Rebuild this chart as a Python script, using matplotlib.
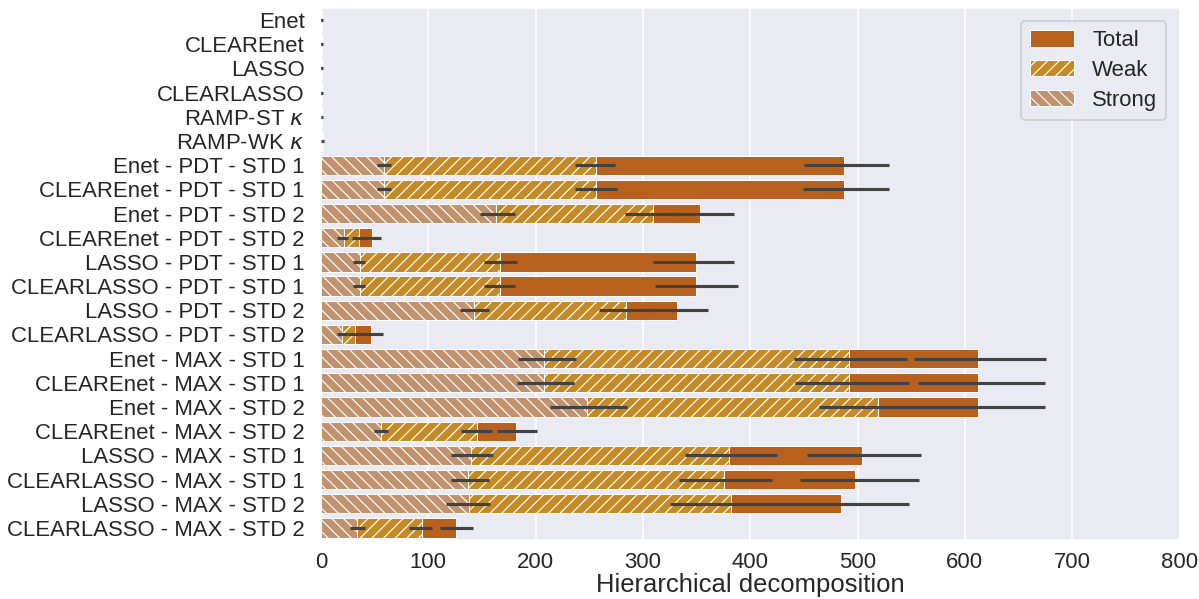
import matplotlib
matplotlib.use("Agg")
import matplotlib.pyplot as plt
import seaborn as sns

LABELS = ["Enet", "CLEAREnet", "LASSO", "CLEARLASSO", "RAMP-ST $\\kappa$", "RAMP-WK $\\kappa$",
          "Enet - PDT - STD 1", "CLEAREnet - PDT - STD 1", "Enet - PDT - STD 2", "CLEAREnet - PDT - STD 2",
          "LASSO - PDT - STD 1", "CLEARLASSO - PDT - STD 1", "LASSO - PDT - STD 2", "CLEARLASSO - PDT - STD 2",
          "Enet - MAX - STD 1", "CLEAREnet - MAX - STD 1", "Enet - MAX - STD 2", "CLEAREnet - MAX - STD 2",
          "LASSO - MAX - STD 1", "CLEARLASSO - MAX - STD 1", "LASSO - MAX - STD 2", "CLEARLASSO - MAX - STD 2"]

TOTAL = [1.0, 1.0, 1.0, 1.0, 1.2, 2.0,
         487, 487, 353, 47.5, 349, 349, 332, 47,
         612, 612, 612, 182, 504, 498, 485, 126]
TOTAL_LO = [0.4, 0.4, 0.4, 0.4, 0.5, 1.0,
            450, 449, 322, 39, 309, 311, 303, 36,
            553, 556, 549, 164, 453, 446, 422, 111]
TOTAL_HI = [1.6, 1.6, 1.6, 1.6, 1.9, 3.2,
            529, 529, 385, 55.6, 385, 389, 361, 58,
            676, 675, 675, 201.5, 559, 557, 548, 142]

WEAK = [0.6, 0.6, 0.6, 0.6, 0.7, 1.2,
        256, 256, 309, 35, 167, 167, 284, 32,
        492, 492, 519, 145, 380, 376, 382, 94]
WEAK_LO = [0.3, 0.3, 0.3, 0.3, 0.3, 0.6,
           237, 237, 283, 28.6, 152, 152, 259, 25.5,
           441, 442, 464, 130, 339, 334, 325, 82]
WEAK_HI = [0.9, 0.9, 0.9, 0.9, 1.1, 1.8,
           274, 275.5, 334, 41, 183, 181, 309, 39,
           546, 548, 573, 159, 425, 420, 439, 103]

STRONG = [0.4, 0.4, 0.4, 0.4, 0.5, 0.8,
          59, 59, 163, 21, 36, 36, 143, 20,
          208, 208, 248, 56, 140, 137, 138, 34]
STRONG_LO = [0.2, 0.2, 0.2, 0.2, 0.2, 0.4,
             52.5, 52.5, 148, 15.2, 30, 30, 129.5, 14.6,
             184, 183, 213, 49.4, 121, 121, 116.5, 27]
STRONG_HI = [0.6, 0.6, 0.6, 0.6, 0.8, 1.2,
             65, 65, 181, 25.4, 41, 41, 157, 25,
             238, 236, 285, 62, 160, 157, 157.5, 41]

COLORS = {"Total": "#b8611e", "Weak": "#c48a25", "Strong": "#c0926d"}
HATCHES = {"Total": "", "Weak": "////", "Strong": "\\\\\\\\"}

sns.set_style("darkgrid")
plt.rcParams['font.family'] = ['Liberation Sans', 'DejaVu Sans']
plt.rcParams['mathtext.fontset'] = 'dejavusans'
plt.rcParams['hatch.color'] = 'white'
plt.rcParams['hatch.linewidth'] = 0.6

DPI = 140
FS = 11.4
fig = plt.figure(figsize=(1199 / DPI, 599 / DPI), dpi=DPI)
ax = fig.add_axes([321 / 1199, 59 / 599, 858.5 / 1199, 532 / 599])

y = list(range(len(LABELS)))
series = [("Total", TOTAL, TOTAL_LO, TOTAL_HI),
          ("Weak", WEAK, WEAK_LO, WEAK_HI),
          ("Strong", STRONG, STRONG_LO, STRONG_HI)]

handles = []
for name, vals, lo, hi in series:
    bars = ax.barh(y, vals, height=0.8, color=COLORS[name], hatch=HATCHES[name],
                   edgecolor="white", linewidth=0.5, label=name, zorder=1)
    handles.append(bars)
    ax.hlines(y, lo, hi, color=".26", linewidth=1.6, zorder=3)

ax.set_xlim(0, 800)
ax.set_ylim(len(LABELS) - 0.5, -0.5)
ax.set_xticks(range(0, 801, 100))
ax.set_yticks(y)
ax.set_yticklabels(LABELS)
ax.yaxis.grid(False)
ax.tick_params(axis="y", labelsize=FS, pad=5, colors=".15")
ax.tick_params(axis="x", labelsize=FS, pad=2.5, colors=".15")
ax.set_xlabel("Hierarchical decomposition", fontsize=13.2, color=".15", labelpad=0)

ax.legend(handles=handles, loc="upper right", fontsize=FS, handlelength=2.0,
          handleheight=0.75, borderaxespad=0.6, borderpad=0.4, labelspacing=0.4)

fig.savefig("out.png", dpi=DPI)
